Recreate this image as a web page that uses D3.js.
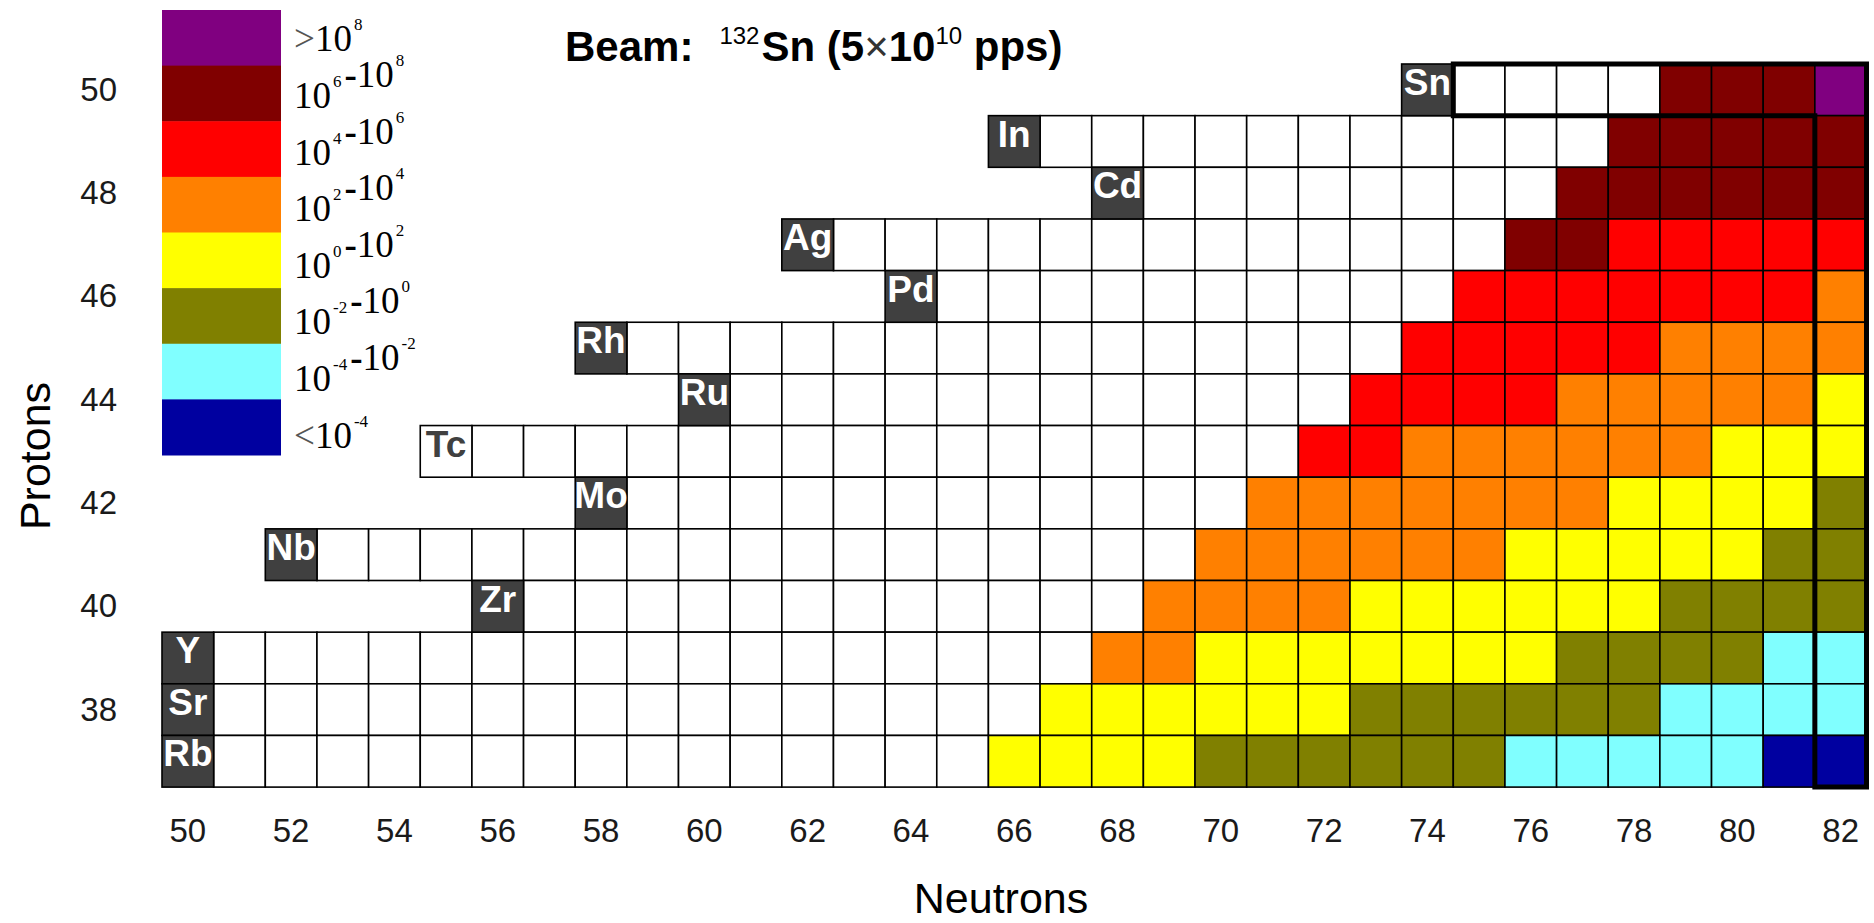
<!DOCTYPE html>
<html><head><meta charset="utf-8">
<script src="https://cdn.jsdelivr.net/npm/d3@7"></script>
<style>
html,body{margin:0;padding:0;background:#fff;}
svg{display:block;}
</style></head><body>
<svg id="chart" width="1874" height="923"></svg>
<script>
// ---- data ----
const neutronTicks = [50,52,54,56,58,60,62,64,66,68,70,72,74,76,78,80,82];
const protonTicks = [38,40,42,44,46,48,50];
const protonNumbers = [50,49,48,47,46,45,44,43,42,41,40,39,38,37];
const elementSymbols = ["Sn","In","Cd","Ag","Pd","Rh","Ru","Tc","Mo","Nb","Zr","Y","Sr","Rb"];
const symbolN = [74,66,68,62,64,58,60,55,58,52,56,50,50,50];
const hasStableIsotope = [true,true,true,true,true,true,true,false,true,true,true,true,true,true];
// yield class per isotope, from N = symbolN+1 up to N = 82 (w = not produced / white)
const yieldCodes = [
  "wwwwDDDP",
  "wwwwwwwwwwwDDDDD",
  "wwwwwwwwDDDDDD",
  "wwwwwwwwwwwwwDDRRRRR",
  "wwwwwwwwwwRRRRRRRO",
  "wwwwwwwwwwwwwwwRRRRROOOO",
  "wwwwwwwwwwwwRRRROOOOOY",
  "wwwwwwwwwwwwwwwwRROOOOOOYYY",
  "wwwwwwwwwwwwOOOOOOOYYYYL",
  "wwwwwwwwwwwwwwwwwOOOOOOYYYYYLL",
  "wwwwwwwwwwwwOOOOYYYYYYLLLL",
  "wwwwwwwwwwwwwwwwwOOYYYYYYYLLLLCC",
  "wwwwwwwwwwwwwwwwYYYYYYLLLLLLCCCC",
  "wwwwwwwwwwwwwwwYYYYLLLLLLCCCCCBB"
];
const yieldClasses = ["P","D","R","O","Y","L","C","B"];
const yieldColors = ["#800080","#800000","#ff0000","#ff8000","#ffff00","#808000","#80ffff","#0000a0"];
const rangeLow  = [8,6,4,2,0,-2,-4,null];
const rangeHigh = [null,8,6,4,2,0,-2,-4];

// ---- layout ----
const svg = d3.select("#chart");
const x = d3.scaleBand().domain(d3.range(50,83)).range([162, 1866.5]).paddingInner(0);
const y = d3.scaleBand().domain(d3.range(50,36,-1)).range([64, 787.1]).paddingInner(0);
const bw = x.bandwidth(), bh = y.bandwidth();
const colorOf = d3.scaleOrdinal().domain(yieldClasses).range(yieldColors).unknown("#ffffff");

// cells
const cells = [];
protonNumbers.forEach((Z,i)=>{
  yieldCodes[i].split("").forEach((c,j)=>{
    cells.push({Z, N: symbolN[i]+1+j, code: c});
  });
});
const gCells = svg.append("g");
gCells.selectAll("rect").data(cells).join("rect")
  .attr("x", d=>x(d.N)).attr("y", d=>y(d.Z))
  .attr("width", bw).attr("height", bh)
  .attr("fill", d=>colorOf(d.code))
  .attr("stroke", "#000").attr("stroke-width", 1.6);

// element symbol cells
const elems = protonNumbers.map((Z,i)=>({Z, N: symbolN[i], sym: elementSymbols[i], stable: hasStableIsotope[i]}));
const defs = svg.append("defs");
defs.selectAll("clipPath").data(elems).join("clipPath")
  .attr("id", (d,i)=>"clip"+i)
  .append("rect").attr("x", d=>x(d.N)).attr("y", d=>y(d.Z)).attr("width", bw).attr("height", bh);
const gEl = svg.append("g");
gEl.selectAll("rect").data(elems).join("rect")
  .attr("x", d=>x(d.N)).attr("y", d=>y(d.Z)).attr("width", bw).attr("height", bh)
  .attr("fill", d=>d.stable ? "#404040" : "#ffffff")
  .attr("stroke", "#000").attr("stroke-width", 1.6);
gEl.selectAll("text").data(elems).join("text")
  .attr("clip-path", (d,i)=>"url(#clip"+i+")")
  .attr("x", d=>x(d.N)+bw/2).attr("y", d=>y(d.Z)+31)
  .attr("text-anchor","middle")
  .attr("font-family","'Liberation Sans', Arial, sans-serif")
  .attr("font-weight","bold").attr("font-size",37)
  .attr("fill", d=>d.stable ? "#ffffff" : "#404040")
  .text(d=>d.sym);

// thick outline around Sn isotopes and N=82 isotones
const xL = x(75), xR = x(82)+bw, x82 = x(82);
const yT = y(50), y49 = y(49), yB = y(37)+bh;
svg.append("path")
  .attr("d", `M${xL},${yT}H${xR}V${yB}H${x82}V${y49}H${xL}Z`)
  .attr("fill","none").attr("stroke","#000").attr("stroke-width",5).attr("stroke-linejoin","miter");

// tick labels (placed with the band scales)
const axisFont = "'Liberation Sans', Arial, sans-serif";
svg.append("g").attr("class","x-ticks")
  .selectAll("text").data(neutronTicks).join("text")
  .attr("x", d=>x(d)+bw/2).attr("y", yB+55)
  .attr("text-anchor","middle")
  .attr("font-family", axisFont).attr("font-size", 33).attr("fill","#1a1a1a")
  .text(d=>d);
svg.append("g").attr("class","y-ticks")
  .selectAll("text").data(protonTicks).join("text")
  .attr("x", 117).attr("y", d=>y(d)+bh/2+11)
  .attr("text-anchor","end")
  .attr("font-family", axisFont).attr("font-size", 33).attr("fill","#1a1a1a")
  .text(d=>d);

svg.append("text").attr("x", 1001).attr("y", 913).attr("text-anchor","middle")
  .attr("font-family", axisFont).attr("font-size", 43).attr("fill","#000").text("Neutrons");
svg.append("text").attr("transform","translate(50,456) rotate(-90)").attr("text-anchor","middle")
  .attr("font-family", axisFont).attr("font-size", 43).attr("fill","#000").text("Protons");

// legend
const ly = d3.scaleBand().domain(yieldClasses).range([10, 455]);
const gLeg = svg.append("g");
gLeg.selectAll("rect").data(yieldClasses).join("rect")
  .attr("x",162).attr("y", d=>ly(d)).attr("width",119).attr("height", ly.bandwidth()+0.5)
  .attr("fill", d=>colorOf(d));
const serif = "'Liberation Serif', 'Times New Roman', serif";
yieldClasses.forEach((k,i)=>{
  const t = gLeg.append("text").attr("x",294).attr("y", ly(k)+ly.bandwidth()/2+13.5 + i)
    .attr("font-family", serif).attr("font-size", 37).attr("fill","#000");
  const sup = (e)=>{
    t.append("tspan").text("10");
    t.append("tspan").attr("font-size",17).attr("dx",2).attr("dy",-21).text(String(e));
    t.append("tspan").attr("dy",21).text("");
  };
  if (rangeHigh[i] === null) { t.append("tspan").attr("fill","#555").text(">"); sup(rangeLow[i]); }
  else if (rangeLow[i] === null) { t.append("tspan").attr("fill","#555").text("<"); sup(rangeHigh[i]); }
  else { sup(rangeLow[i]); t.append("tspan").attr("font-weight","bold").attr("dx",3).text("-"); sup(rangeHigh[i]); }
});

// title
const title = svg.append("text").attr("x",565).attr("y",61)
  .attr("font-family", axisFont).attr("font-weight","bold").attr("font-size",42).attr("fill","#000");
title.append("tspan").text("Beam:");
title.append("tspan").attr("dx",26).attr("dy",-17).attr("font-size",24).attr("font-weight","normal").text("132");
title.append("tspan").attr("dx",2).attr("dy",17).text("Sn (5");
title.append("tspan").attr("font-weight","normal").attr("fill","#333").text("\u00d7");
title.append("tspan").text("10");
title.append("tspan").attr("dy",-17).attr("font-size",24).attr("font-weight","normal").text("10");
title.append("tspan").attr("dy",17).text(" pps)");
</script>
</body></html>
